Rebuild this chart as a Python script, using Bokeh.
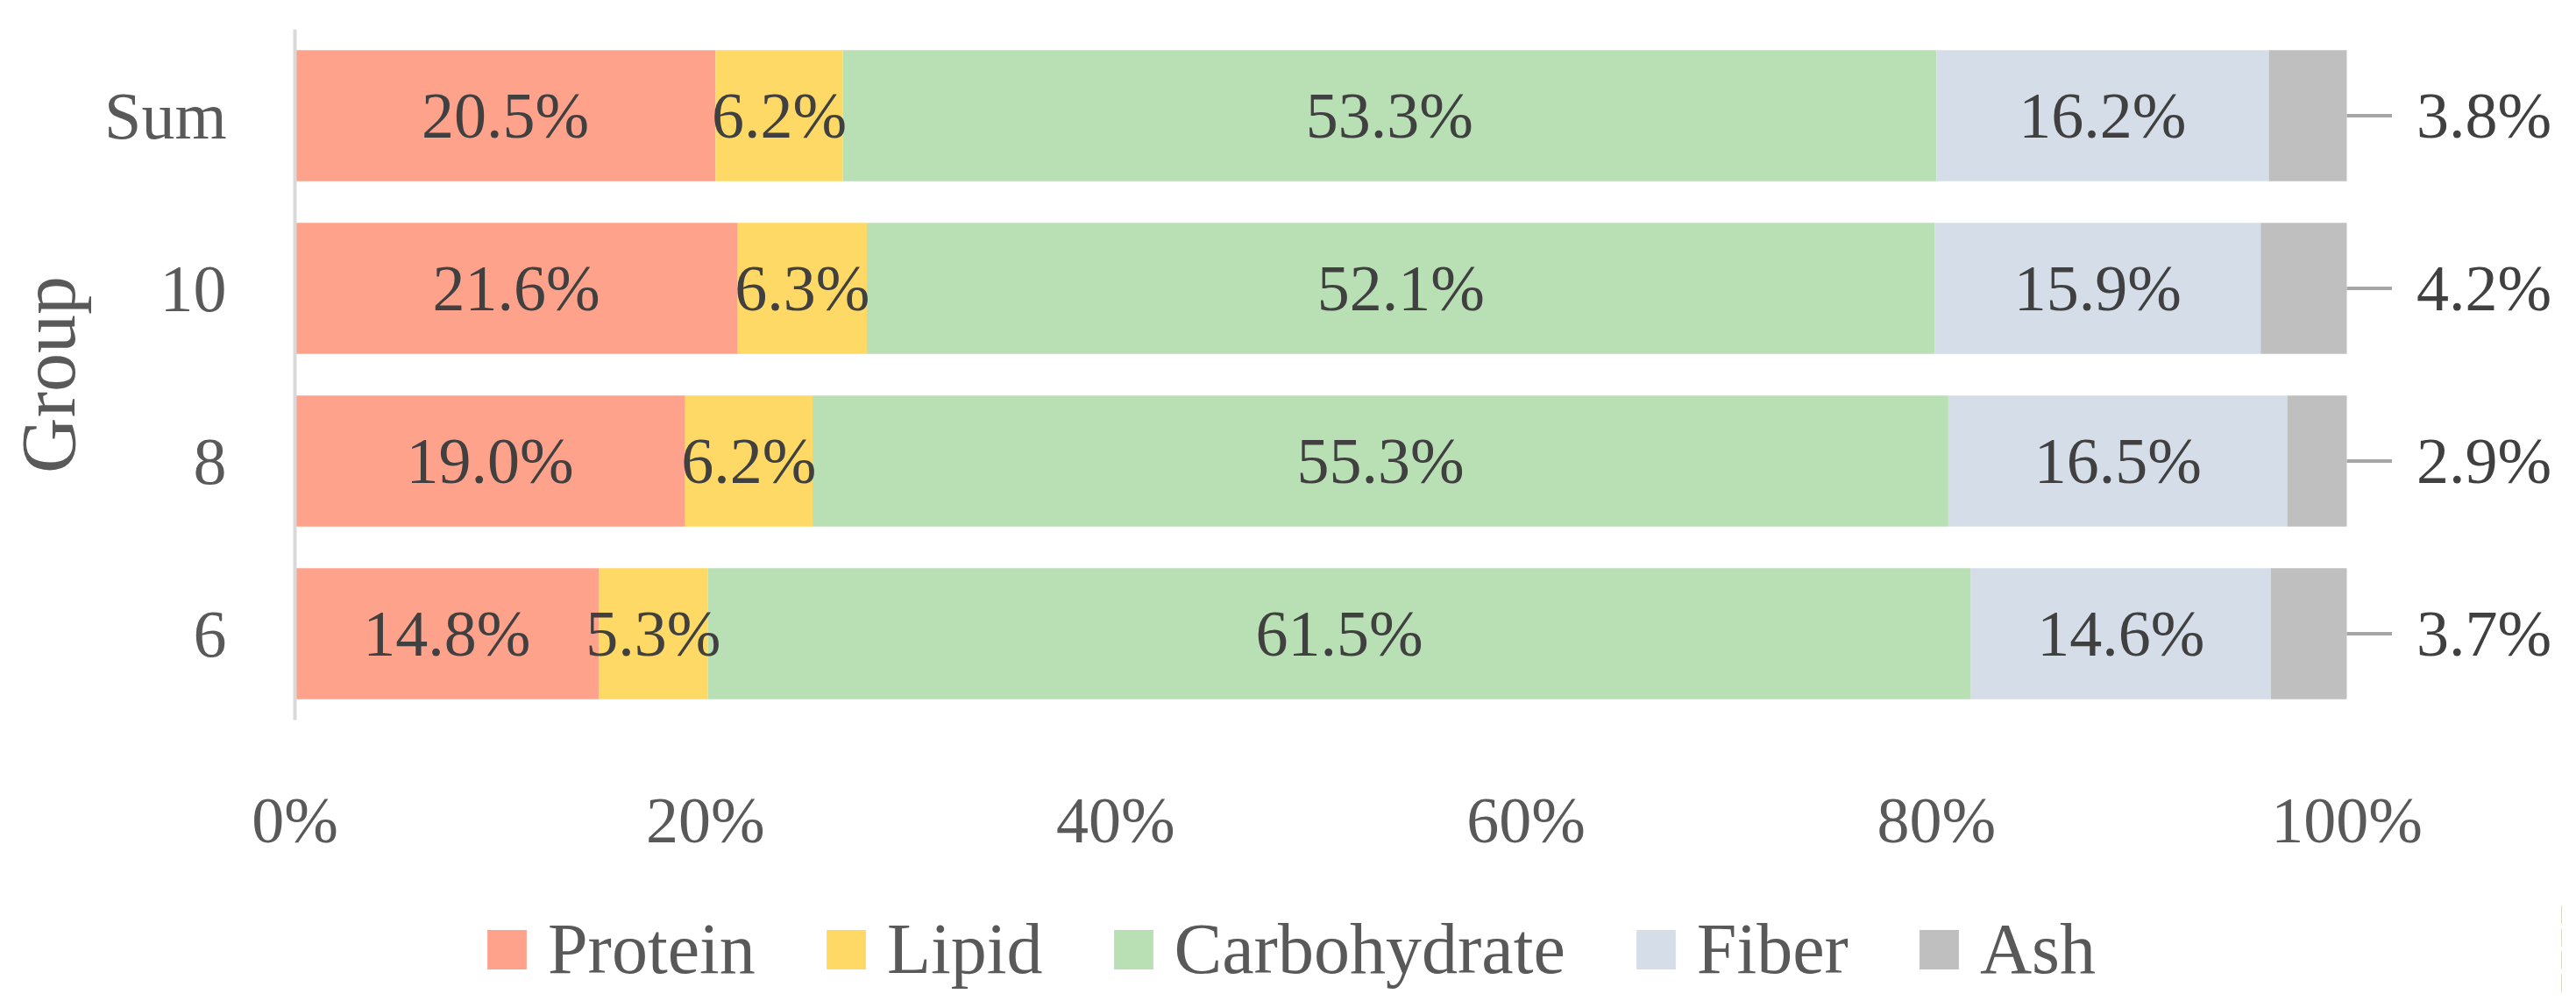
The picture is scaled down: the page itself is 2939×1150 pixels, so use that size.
from bokeh.plotting import figure
from bokeh.layouts import column
from bokeh.models import ColumnDataSource, Range1d, FactorRange, FixedTicker, Legend, LegendItem
from bokeh.core.properties import value
from bokeh.embed import file_html
from bokeh.resources import INLINE

# ---------------- data ----------------
groups = ["6", "8", "10", "Sum"]
components = ["Protein", "Lipid", "Carbohydrate", "Fiber", "Ash"]
protein = [14.8, 19.0, 21.6, 20.5]
lipid = [5.3, 6.2, 6.3, 6.2]
carbohydrate = [61.5, 55.3, 52.1, 53.3]
fiber = [14.6, 16.5, 15.9, 16.2]
ash = [3.7, 2.9, 4.2, 3.8]
x_ticks = [0, 20, 40, 60, 80, 100]
x_tick_labels = ["0%", "20%", "40%", "60%", "80%", "100%"]

colors = ["#FFA28B", "#FFD966", "#B9E0B4", "#D5DEE8", "#BFBFBF"]
FONT = "Liberation Serif"

series = [protein, lipid, carbohydrate, fiber, ash]
totals = [sum(s[i] for s in series) for i in range(len(groups))]
norm = {c: [s[i] / totals[i] * 100 for i in range(len(groups))] for c, s in zip(components, series)}

src = ColumnDataSource(dict(group=groups, **norm))

W = 2923
H1, H2 = 1030, 104
LEFT = 336
PX_PER_UNIT = (2678 - 337) / 100.0
frame_w = W - LEFT - 1
p = figure(width=W, height=H1, y_range=FactorRange(*groups, range_padding=0),
           x_range=Range1d(0, frame_w / PX_PER_UNIT),
           output_backend="svg", toolbar_location=None,
           min_border_left=LEFT, min_border_right=1, min_border_top=33, min_border_bottom=209)
p.outline_line_color = None
p.grid.visible = False
p.background_fill_color = "white"

rs = p.hbar_stack(components, y="group", height=0.76, color=colors, source=src, line_color=None)

# in-bar labels and outside Ash labels with leader lines
lx, ly, lt = [], [], []
ox, oy, ot = [], [], []
sx0, sx1, sy = [], [], []
for i, g in enumerate(groups):
    left = 0.0
    for c, s in zip(components, series):
        w = norm[c][i]
        if c == "Ash":
            sx0.append(left + w)
            sx1.append(left + w + 2.2)
            sy.append(g)
            ox.append(left + w + 3.4)
            oy.append(g)
            ot.append(f"{s[i]:.1f}%")
        else:
            lx.append(left + w / 2)
            ly.append(g)
            lt.append(f"{s[i]:.1f}%")
        left += w

p.text(x=lx, y=ly, text=lt, text_align="center", text_baseline="middle",
       text_font=value(FONT), text_font_size="74px", text_color="#404040")
p.segment(x0=sx0, x1=sx1, y0=sy, y1=sy, line_color="#A6A6A6", line_width=4)
p.text(x=ox, y=oy, text=ot, text_align="left", text_baseline="middle",
       text_font=value(FONT), text_font_size="74px", text_color="#404040")

# axes
xa = p.xaxis[0]
xa.ticker = FixedTicker(ticks=x_ticks)
xa.major_label_overrides = {t: l for t, l in zip(x_ticks, x_tick_labels)}
xa.axis_line_color = None
xa.major_tick_line_color = None
xa.minor_tick_line_color = None
xa.major_label_text_font = FONT
xa.major_label_text_font_size = "74px"
xa.major_label_text_color = "#595959"
xa.major_label_standoff = 67

ya = p.yaxis[0]
ya.axis_line_color = "#D9D9D9"
ya.axis_line_width = 4
ya.major_tick_line_color = None
ya.minor_tick_line_color = None
ya.major_label_text_font = FONT
ya.major_label_text_font_size = "76px"
ya.major_label_text_color = "#595959"
ya.major_label_standoff = 72
ya.axis_label = "Group"
ya.axis_label_text_font = FONT
ya.axis_label_text_font_size = "88px"
ya.axis_label_text_font_style = "normal"
ya.axis_label_text_color = "#595959"
ya.axis_label_standoff = 12

# legend figure (same stacked renderers, kept outside its visible x range)
p2 = figure(width=W, height=H2, x_range=Range1d(-300, -200), y_range=FactorRange(*groups),
            output_backend="svg", toolbar_location=None,
            min_border_left=0, min_border_right=0, min_border_top=0, min_border_bottom=0)
p2.axis.visible = False
p2.grid.visible = False
p2.outline_line_color = None
rs2 = p2.hbar_stack(components, y="group", height=0.76, color=colors, source=src, line_color=None)
legend = Legend(items=[LegendItem(label=c, renderers=[r]) for c, r in zip(components, rs2)],
                orientation="horizontal", location=(214, 4),
                glyph_width=56, glyph_height=56, label_standoff=19, spacing=75,
                padding=0, margin=0, border_line_color=None, background_fill_alpha=0,
                label_text_font=FONT, label_text_font_size="82px", label_text_color="#595959")
p2.add_layout(legend, "center")

layout = column(p, p2, spacing=0)
open("out.html", "w").write(file_html(layout, INLINE))
